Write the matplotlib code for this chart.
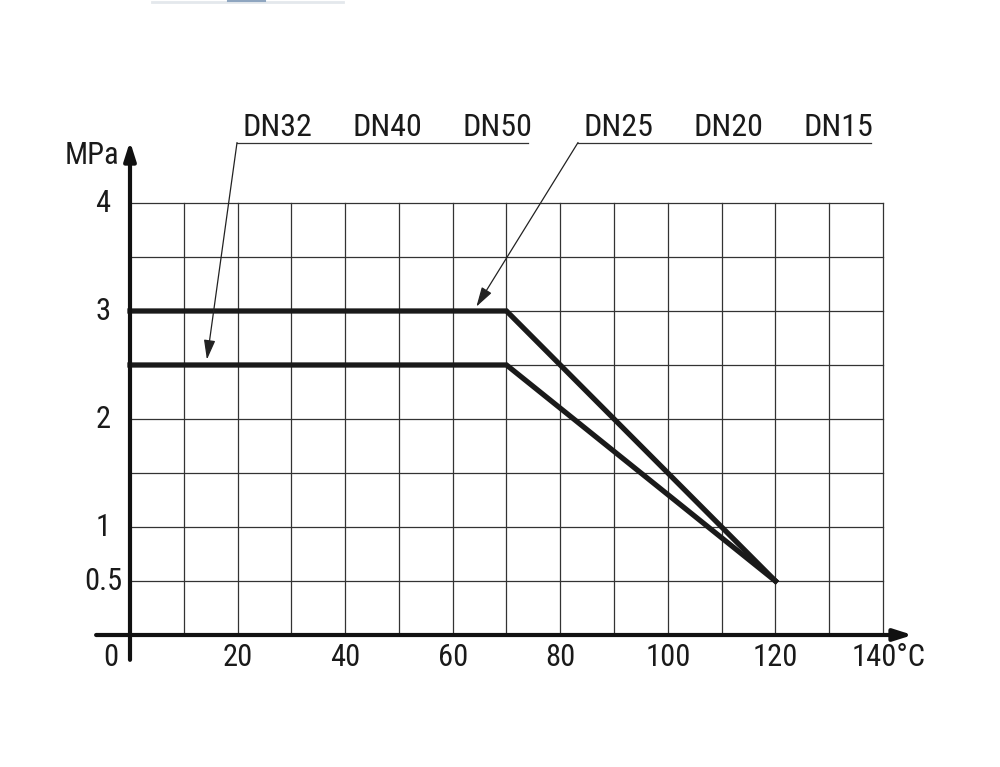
import matplotlib
matplotlib.use("Agg")
import matplotlib.pyplot as plt
from matplotlib import font_manager
from matplotlib.lines import Line2D

# --- data --- #
temps = [0, 70, 120]
p_upper = [3.0, 3.0, 0.5]      # DN25 / DN20 / DN15
p_lower = [2.5, 2.5, 0.5]      # DN32 / DN40 / DN50

labels_left = ["DN32", "DN40", "DN50"]
labels_left_x = [27.5, 47.9, 68.3]
labels_right = ["DN25", "DN20", "DN15"]
labels_right_x = [90.9, 111.3, 131.7]

yticks = [4, 3, 2, 1, 0.5]
ytick_labels = ["4", "3", "2", "1", "0.5"]
xticks = [20, 40, 60, 80, 100, 120]
xtick_labels = ["20", "40", "60", "80", "100", "120"]

# pick a narrow sans font if one is around
names = {f.name for f in font_manager.fontManager.ttflist}
narrow = [n for n in ['Liberation Sans Narrow', 'Arial Narrow', 'Roboto Condensed',
                      'Open Sans Condensed', 'Noto Sans Condensed', 'DejaVu Sans Condensed']
          if n in names]
cond = [f for f in font_manager.fontManager.ttflist
        if str(f.stretch) in ('condensed', 'semi-condensed', 'extra-condensed')
        and f.weight in (400, 'normal', 'regular')]
stretch = 'normal'
if narrow:
    fam = [narrow[0], 'DejaVu Sans']
elif cond:
    fam = [cond[0].name, 'DejaVu Sans']
    stretch = str(cond[0].stretch)
else:
    fam = ['Liberation Sans', 'DejaVu Sans']
plt.rcParams['font.family'] = fam
plt.rcParams['font.stretch'] = stretch

W, H = 1000, 767
fig = plt.figure(figsize=(W / 100, H / 100), dpi=100)
# axes box = the grid area (0..140 x 0..4)
ax = fig.add_axes([130 / W, (H - 635) / H, 753 / W, 432 / H])
ax.set_xlim(0, 140)
ax.set_ylim(0, 4)
ax.axis('off')

fs = 22 if (narrow or cond) else 21
tcol = '#1a1a1a'
gcol = '#333333'

# grid
for gx in range(10, 150, 10):
    ax.plot([gx, gx], [0, 4], color=gcol, lw=0.9, clip_on=False)
for i in range(1, 9):
    gy = i * 0.5
    ax.plot([0, 140], [gy, gy], color=gcol, lw=0.9, clip_on=False)

# axes with arrows
ax.annotate('', xy=(145.5, 0), xytext=(-6.3, 0),
            arrowprops=dict(arrowstyle='-|>,head_length=1.1,head_width=0.35',
                            color='#111111', lw=3, shrinkA=0, shrinkB=0),
            annotation_clip=False)
ax.annotate('', xy=(0, 4.57), xytext=(0, -0.23),
            arrowprops=dict(arrowstyle='-|>,head_length=1.1,head_width=0.35',
                            color='#111111', lw=3, shrinkA=0, shrinkB=0),
            annotation_clip=False)

# data lines
ax.plot(temps, p_upper, color=tcol, lw=3.8, solid_joinstyle='miter', clip_on=False)
ax.plot(temps, p_lower, color=tcol, lw=3.8, solid_joinstyle='miter', clip_on=False)

# tick labels (y labels are centred in a column left of the axis)
for v, t in zip(yticks, ytick_labels):
    ax.text(-5.0, v, t, ha='center', va='center', fontsize=fs, color=tcol)
ax.text(-2.1, -0.21, "0", ha='right', va='center', fontsize=fs, color=tcol)
ax.text(-2.0, 4.44, "MPa", ha='right', va='center', fontsize=fs, color=tcol)
for v, t in zip(xticks, xtick_labels):
    ax.text(v, -0.21, t, ha='center', va='center', fontsize=fs, color=tcol)
ax.text(141.0, -0.21, "140°C", ha='center', va='center', fontsize=fs, color=tcol)

# DN labels with leader lines
for x, t in zip(labels_left_x, labels_left):
    ax.text(x, 4.62, t, ha='center', va='baseline', fontsize=fs + 1, color=tcol)
for x, t in zip(labels_right_x, labels_right):
    ax.text(x, 4.62, t, ha='center', va='baseline', fontsize=fs + 1, color=tcol)

ax.plot([19.9, 74.0], [4.56, 4.56], color=gcol, lw=0.9, clip_on=False)
ax.plot([83.3, 137.7], [4.56, 4.56], color=gcol, lw=0.9, clip_on=False)
ax.annotate('', xy=(14.3, 2.55), xytext=(19.9, 4.56),
            arrowprops=dict(arrowstyle='-|>,head_length=1.2,head_width=0.35',
                            color='#222222', lw=0.9, shrinkA=0, shrinkB=0),
            annotation_clip=False)
ax.annotate('', xy=(64.4, 3.04), xytext=(83.3, 4.56),
            arrowprops=dict(arrowstyle='-|>,head_length=1.2,head_width=0.35',
                            color='#222222', lw=0.9, shrinkA=0, shrinkB=0),
            annotation_clip=False)

# faint line at top edge
fig.add_artist(Line2D([152 / W, 343 / W], [1 - 1.5 / H, 1 - 1.5 / H],
                      color='#e4e8ec', lw=2))
fig.add_artist(Line2D([228 / W, 265 / W], [1 - 1.0 / H, 1 - 1.0 / H],
                      color='#8fa6c0', lw=1.5))

fig.savefig("out.png", dpi=100)
